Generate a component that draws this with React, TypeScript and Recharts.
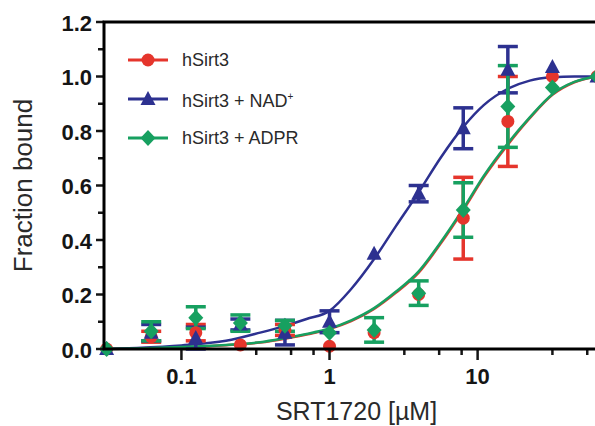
import React from "react";
import { ComposedChart, Line, Scatter, ErrorBar, XAxis, YAxis, Label } from "recharts";

// SRT1720 concentrations (uM), two-fold dilution series
const concentrations = [0.03125, 0.0625, 0.125, 0.25, 0.5, 1, 2, 4, 8, 16, 32, 64];

const sirt3Mean = [0, 0.045, 0.06, 0.015, 0.07, 0.01, 0.06, 0.2, 0.48, 0.835, 1.0, 1.0];
const sirt3Err = [0, 0.02, 0.03, 0, 0.02, 0, 0, 0, 0.15, 0.165, 0, 0];

const nadMean = [0, 0.06, 0.04, 0.09, 0.06, 0.1, 0.35, 0.57, 0.81, 1.025, 1.035, 1.0];
const nadErr = [0, 0.03, 0.04, 0.02, 0.045, 0.04, 0, 0.03, 0.075, 0.085, 0, 0];

const adprMean = [0, 0.065, 0.115, 0.095, 0.085, 0.06, 0.07, 0.205, 0.51, 0.89, 0.96, 1.0];
const adprErr = [0, 0.035, 0.04, 0.03, 0.02, 0, 0.045, 0.045, 0.1, 0.15, 0, 0];

// fitted curves
const fitX = [0.03, 0.05, 0.1, 0.2, 0.34, 0.5, 0.7, 1, 1.4, 2, 2.8, 4, 5.6, 8, 11, 16, 22.5, 32, 45, 64];
const sirt3Fit = [0, 0.002, 0.006, 0.014, 0.024, 0.038, 0.053, 0.073, 0.102, 0.147, 0.206, 0.28, 0.385, 0.51, 0.63, 0.75, 0.847, 0.933, 0.979, 1.0];
const nadFit = [0, 0.004, 0.013, 0.03, 0.06, 0.085, 0.11, 0.14, 0.22, 0.33, 0.45, 0.575, 0.7, 0.815, 0.895, 0.955, 0.985, 0.997, 1.0, 1.0];
const adprFit = [0, 0.002, 0.007, 0.015, 0.025, 0.04, 0.055, 0.075, 0.105, 0.15, 0.21, 0.285, 0.39, 0.515, 0.635, 0.755, 0.85, 0.935, 0.98, 1.0];

const xDomain = [0.03, 64];
const yDomain = [0, 1.2];
const xMajor = [0.1, 1, 10];
const xMinor = [0.32, 0.55, 0.78, 3.2, 5.5, 7.8, 32, 55];
const yTicks = [0, 0.1, 0.2, 0.3, 0.4, 0.5, 0.6, 0.7, 0.8, 0.9, 1.0, 1.1, 1.2];

const RED = "#e5352c";
const BLUE = "#2d3190";
const GREEN = "#17a060";
const INK = "#151515";

// layout
const W = 600;
const H = 426;
const M = { top: 20, right: 2, bottom: 0, left: 0 };
const Y_AXIS_W = 104;
const RIGHT_AXIS_W = 1;
const TOP_AXIS_H = 2;
const X_AXIS_H = 77;
const plot = {
  left: M.left + Y_AXIS_W,
  right: W - M.right - RIGHT_AXIS_W,
  top: M.top + TOP_AXIS_H,
  bottom: H - M.bottom - X_AXIS_H,
};

const points = (ys: number[], errs: number[]) =>
  concentrations.map((x, i) => ({ x, y: ys[i], err: errs[i] }));
const curve = (ys: number[]) => fitX.map((x, i) => ({ x, y: ys[i] }));

const xTicks = [...xMajor, ...xMinor].sort((a, b) => a - b);
const isMajorY = (v: number) => Math.round(v * 10) % 2 === 0;

const BottomTick = (props: any) => {
  const { x, y, payload } = props;
  const major = xMajor.includes(payload.value);
  return (
    <g>
      <line x1={x} x2={x} y1={y} y2={y + (major ? 11 : 6)} stroke={INK} strokeWidth={2.5} />
      {major && (
        <text x={x} y={y + 35} textAnchor="middle" fontSize={22} fontWeight="bold" fill={INK}>
          {String(payload.value)}
        </text>
      )}
    </g>
  );
};

const TopTick = (props: any) => {
  const { x, y, payload } = props;
  const major = xMajor.includes(payload.value);
  return <line x1={x} x2={x} y1={y} y2={y + (major ? 10 : 7)} stroke={INK} strokeWidth={2.5} />;
};

const LeftTick = (props: any) => {
  const { x, y, payload } = props;
  const major = isMajorY(payload.value);
  return (
    <g>
      <line x1={x - (major ? 8 : 6)} x2={x} y1={y} y2={y} stroke={INK} strokeWidth={2.5} />
      {major && (
        <text x={x - 12} y={y + 8.5} textAnchor="end" fontSize={22} fontWeight="bold" fill={INK}>
          {payload.value.toFixed(1)}
        </text>
      )}
    </g>
  );
};

const RightTick = (props: any) => {
  const { x, y, payload } = props;
  const major = isMajorY(payload.value);
  return <line x1={x - (major ? 10 : 5)} x2={x} y1={y} y2={y} stroke={INK} strokeWidth={2.5} />;
};

const Circle = (p: any) => <circle cx={p.cx} cy={p.cy} r={6.5} fill={RED} />;
const Triangle = (p: any) => (
  <polygon
    points={`${p.cx},${p.cy - 8} ${p.cx + 7.5},${p.cy + 6} ${p.cx - 7.5},${p.cy + 6}`}
    fill={BLUE}
  />
);
const Diamond = (p: any) => (
  <polygon
    points={`${p.cx},${p.cy - 8} ${p.cx + 7.5},${p.cy} ${p.cx},${p.cy + 8} ${p.cx - 7.5},${p.cy}`}
    fill={GREEN}
  />
);

const legendItems = [
  { label: "hSirt3", sup: "", color: RED, marker: "circle" },
  { label: "hSirt3 + NAD", sup: "+", color: BLUE, marker: "triangle" },
  { label: "hSirt3 + ADPR", sup: "", color: GREEN, marker: "diamond" },
];

function LegendIcon({ color, marker }: { color: string; marker: string }) {
  return (
    <svg width={40} height={18} style={{ display: "block" }}>
      <line x1={0} x2={40} y1={9} y2={9} stroke={color} strokeWidth={3} />
      {marker === "circle" && <circle cx={20} cy={9} r={6.5} fill={color} />}
      {marker === "triangle" && <polygon points="20,1 27.5,15 12.5,15" fill={color} />}
      {marker === "diamond" && <polygon points="20,1 27.5,9 20,17 12.5,9" fill={color} />}
    </svg>
  );
}

export default function App() {
  const series = [
    { name: "hSirt3", mean: sirt3Mean, err: sirt3Err, fit: sirt3Fit, color: RED, shape: Circle },
    { name: "hSirt3 + NAD+", mean: nadMean, err: nadErr, fit: nadFit, color: BLUE, shape: Triangle },
    { name: "hSirt3 + ADPR", mean: adprMean, err: adprErr, fit: adprFit, color: GREEN, shape: Diamond },
  ];

  return (
    <div style={{ position: "absolute", left: 0, top: 0, width: W, height: H, fontFamily: "Arial, 'Liberation Sans', sans-serif" }}>
      <div style={{ position: "absolute", left: 0, top: 0 }}>
        <ComposedChart width={W} height={H} margin={M}>
          <XAxis
            dataKey="x"
            type="number"
            scale="log"
            domain={xDomain}
            ticks={xTicks}
            interval={0}
            tickSize={0}
            tickMargin={0}
            height={X_AXIS_H}
            axisLine={false}
            tickLine={false}
            tick={<BottomTick />}
          >
            <Label
              content={({ viewBox }: any) => (
                <text
                  x={viewBox.x + viewBox.width / 2 + 6}
                  y={viewBox.y + 71}
                  textAnchor="middle"
                  fontSize={25}
                  fill="#2a2a2a"
                >
                  SRT1720 [µM]
                </text>
              )}
            />
          </XAxis>
          <XAxis
            xAxisId="top"
            orientation="top"
            dataKey="x"
            type="number"
            scale="log"
            domain={xDomain}
            ticks={xTicks}
            interval={0}
            tickSize={0}
            tickMargin={0}
            height={TOP_AXIS_H}
            axisLine={false}
            tickLine={false}
            tick={<TopTick />}
          />
          <YAxis
            dataKey="y"
            type="number"
            domain={yDomain}
            ticks={yTicks}
            interval={0}
            tickSize={0}
            tickMargin={0}
            width={Y_AXIS_W}
            axisLine={false}
            tickLine={false}
            tick={<LeftTick />}
          >
            <Label
              content={({ viewBox }: any) => {
                const cy = viewBox.y + viewBox.height / 2;
                return (
                  <text
                    x={32}
                    y={cy}
                    transform={`rotate(-90, 32, ${cy})`}
                    textAnchor="middle"
                    fontSize={26}
                    fill="#2a2a2a"
                  >
                    Fraction bound
                  </text>
                );
              }}
            />
          </YAxis>
          <YAxis
            yAxisId="right"
            orientation="right"
            dataKey="y"
            type="number"
            domain={yDomain}
            ticks={yTicks}
            interval={0}
            tickSize={0}
            tickMargin={0}
            width={RIGHT_AXIS_W}
            axisLine={false}
            tickLine={false}
            tick={<RightTick />}
          />
          {series.map((s) => (
            <Line
              key={s.name + "-fit"}
              data={curve(s.fit)}
              dataKey="y"
              type="monotone"
              stroke={s.color}
              strokeWidth={2.5}
              dot={false}
              activeDot={false}
              isAnimationActive={false}
              legendType="none"
            />
          ))}
          {series.map((s) => (
            <Scatter
              key={s.name}
              name={s.name}
              data={points(s.mean, s.err)}
              dataKey="y"
              shape={s.shape}
              isAnimationActive={false}
            >
              <ErrorBar dataKey="err" direction="y" width={10} stroke={s.color} strokeWidth={3.5} />
            </Scatter>
          ))}
        </ComposedChart>
      </div>
      {/* plot frame, drawn over the chart */}
      <svg
        width={W}
        height={H}
        style={{ position: "absolute", left: 0, top: 0, pointerEvents: "none", overflow: "visible" }}
      >
        <rect
          x={plot.left}
          y={plot.top}
          width={plot.right - plot.left}
          height={plot.bottom - plot.top}
          fill="none"
          stroke="#000000"
          strokeWidth={3}
        />
      </svg>
      <div style={{ position: "absolute", left: 128, top: 40, color: "#2a2a2a", fontSize: 18 }}>
        {legendItems.map((it) => (
          <div key={it.label} style={{ display: "flex", alignItems: "center", height: 39 }}>
            <LegendIcon color={it.color} marker={it.marker} />
            <span style={{ marginLeft: 14, lineHeight: "18px" }}>
              {it.label}
              {it.sup && <sup style={{ fontSize: 10 }}>{it.sup}</sup>}
            </span>
          </div>
        ))}
      </div>
    </div>
  );
}
